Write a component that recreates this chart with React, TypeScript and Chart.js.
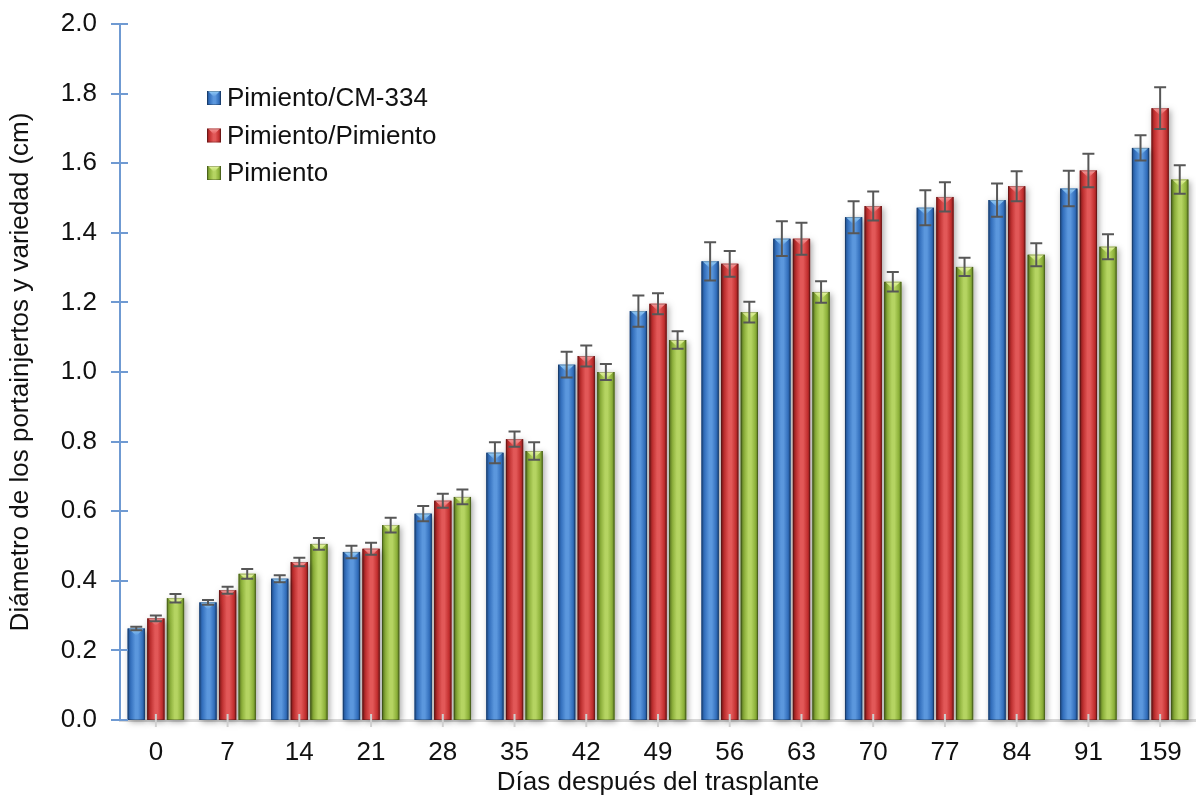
import React, { useEffect, useRef } from 'react';
import { Chart, registerables } from 'chart.js';

Chart.register(...registerables);

// ---- data ----
const days = ['0', '7', '14', '21', '28', '35', '42', '49', '56', '63', '70', '77', '84', '91', '159'];
const seriesNames = ['Pimiento/CM-334', 'Pimiento/Pimiento', 'Pimiento'];
const cm334 = [0.263, 0.338, 0.406, 0.483, 0.593, 0.768, 1.021, 1.175, 1.318, 1.383, 1.445, 1.472, 1.494, 1.527, 1.644];
const pimPim = [0.292, 0.373, 0.454, 0.492, 0.630, 0.807, 1.046, 1.196, 1.311, 1.383, 1.477, 1.503, 1.534, 1.579, 1.758];
const pim = [0.350, 0.420, 0.506, 0.560, 0.641, 0.773, 1.000, 1.092, 1.172, 1.230, 1.259, 1.302, 1.337, 1.360, 1.553];
const errCm334 = [0.005, 0.007, 0.010, 0.018, 0.022, 0.030, 0.037, 0.045, 0.055, 0.050, 0.046, 0.050, 0.048, 0.051, 0.036];
const errPimPim = [0.008, 0.010, 0.012, 0.017, 0.020, 0.022, 0.030, 0.030, 0.037, 0.046, 0.042, 0.042, 0.043, 0.048, 0.060];
const errPim = [0.012, 0.014, 0.017, 0.021, 0.021, 0.025, 0.023, 0.025, 0.030, 0.031, 0.028, 0.026, 0.033, 0.036, 0.041];
const yMin = 0;
const yMax = 2.0;
const yStep = 0.2;
const xTitle = 'Días después del trasplante';
const yTitle = 'Diámetro de los portainjertos y variedad (cm)';

const seriesValues = [cm334, pimPim, pim];
const seriesErrors = [errCm334, errPimPim, errPim];

const palette = [
  { dark: '#1d4a86', mid: '#3470bd', light: '#5b97dd', tip: '#93cdf8' },
  { dark: '#861b1b', mid: '#c33030', light: '#e25858', tip: '#f89a9a' },
  { dark: '#5a7820', mid: '#8db13a', light: '#b5d462', tip: '#e6f7a0' },
];

const FONT = '"Liberation Sans", Arial, Helvetica, sans-serif';
const FS = 26;

function paintBar(ctx: CanvasRenderingContext2D, left: number, top: number, w: number, h: number, p: any) {
  if (h <= 0) return;
  const g = ctx.createLinearGradient(left, 0, left + w, 0);
  g.addColorStop(0, p.dark);
  g.addColorStop(0.18, p.mid);
  g.addColorStop(0.45, p.light);
  g.addColorStop(0.6, p.light);
  g.addColorStop(0.85, p.mid);
  g.addColorStop(1, p.dark);
  ctx.fillStyle = g;
  ctx.fillRect(left, top, w, h);
  // top bevel triangle
  const th = Math.min(w * 0.42, h);
  const tg = ctx.createLinearGradient(0, top, 0, top + th);
  tg.addColorStop(0, p.tip);
  tg.addColorStop(1, p.light);
  ctx.fillStyle = tg;
  ctx.beginPath();
  ctx.moveTo(left + 1, top);
  ctx.lineTo(left + w - 1, top);
  ctx.lineTo(left + w / 2, top + th);
  ctx.closePath();
  ctx.fill();
  ctx.strokeStyle = 'rgba(0,0,0,0.25)';
  ctx.lineWidth = 1;
  ctx.strokeRect(left + 0.5, top + 0.5, w - 1, h - 1);
}

const barPlugin = {
  id: 'barStyle',
  beforeDatasetDraw(chart: any) {
    const ctx = chart.ctx;
    ctx.save();
    ctx.shadowColor = 'rgba(0,0,0,0.35)';
    ctx.shadowBlur = 6;
    ctx.shadowOffsetX = 2;
    ctx.shadowOffsetY = 2;
  },
  afterDatasetDraw(chart: any, args: any) {
    const ctx = chart.ctx;
    ctx.restore();
    const p = palette[args.index];
    args.meta.data.forEach((el: any) => {
      const { x, y, base, width } = el.getProps(['x', 'y', 'base', 'width'], true);
      paintBar(ctx, x - width / 2, y, width, base - y, p);
    });
  },
  afterDatasetsDraw(chart: any) {
    const ctx = chart.ctx;
    const ys = chart.scales.y;
    const xs = chart.scales.x;
    const area = chart.chartArea;
    ctx.save();
    // error bars
    ctx.strokeStyle = '#575757';
    ctx.lineWidth = 2;
    seriesValues.forEach((vals, di) => {
      const meta = chart.getDatasetMeta(di);
      meta.data.forEach((el: any, i: number) => {
        const v = vals[i];
        const e = seriesErrors[di][i];
        const yt = ys.getPixelForValue(v + e);
        const yb = ys.getPixelForValue(v - e);
        const x = el.x;
        ctx.beginPath();
        ctx.moveTo(x, yt);
        ctx.lineTo(x, yb);
        ctx.moveTo(x - 6, yt);
        ctx.lineTo(x + 6, yt);
        ctx.moveTo(x - 6, yb);
        ctx.lineTo(x + 6, yb);
        ctx.stroke();
      });
    });
    // x tick marks
    ctx.strokeStyle = '#cfcfcf';
    ctx.lineWidth = 2;
    days.forEach((_, i) => {
      const x = xs.getPixelForValue(i);
      ctx.beginPath();
      ctx.moveTo(x, area.bottom - 6);
      ctx.lineTo(x, area.bottom + 7);
      ctx.stroke();
    });
    ctx.restore();
  },
  afterDraw(chart: any) {
    const ctx = chart.ctx;
    const ys = chart.scales.y;
    const area = chart.chartArea;
    ctx.save();
    // y tick crosses
    ctx.strokeStyle = '#6f9ad2';
    ctx.lineWidth = 2;
    ys.ticks.forEach((t: any) => {
      const y = Math.round(ys.getPixelForValue(t.value));
      ctx.beginPath();
      ctx.moveTo(area.left - 9, y);
      ctx.lineTo(area.left + 8, y);
      ctx.stroke();
    });
    // legend
    const lx = area.left + 87;
    const ly0 = area.top + 74;
    const gap = 37.5;
    ctx.font = `${FS}px ${FONT}`;
    ctx.textBaseline = 'middle';
    ctx.textAlign = 'left';
    seriesNames.forEach((name, i) => {
      const cy = ly0 + i * gap;
      paintBar(ctx, lx, cy - 7, 14, 14, palette[i]);
      ctx.fillStyle = '#111';
      ctx.fillText(name, lx + 20, cy + 1);
    });
    ctx.restore();
  },
};

export default function App() {
  const ref = useRef<HTMLCanvasElement | null>(null);
  useEffect(() => {
    if (!ref.current) return;
    const chart = new Chart(ref.current, {
      type: 'bar',
      data: {
        labels: days,
        datasets: seriesNames.map((name, i) => ({
          label: name,
          data: seriesValues[i],
          backgroundColor: palette[i].mid,
          borderWidth: 0,
          categoryPercentage: 0.82,
          barPercentage: 0.88,
          clip: false as any,
        })),
      },
      options: {
        animation: false,
        responsive: false,
        devicePixelRatio: 1,
        layout: { padding: { top: 24, right: 0, bottom: 0, left: 0 } },
        plugins: { legend: { display: false }, tooltip: { enabled: false } },
        scales: {
          x: {
            grid: { display: false, drawTicks: false, tickLength: 0 },
            border: { display: true, color: '#d9d9d9', width: 3 },
            ticks: { color: '#111', font: { family: FONT, size: FS }, padding: 17, maxRotation: 0 },
            title: { display: true, text: xTitle, color: '#111', font: { family: FONT, size: FS }, padding: { top: 0, bottom: 6 } },
            afterFit: (s: any) => { s.height = 84; s.paddingLeft = 0; s.paddingRight = 0; },
          },
          y: {
            min: yMin,
            max: yMax,
            ticks: {
              stepSize: yStep,
              color: '#111',
              font: { family: FONT, size: FS },
              padding: 23,
              callback: (v: any) => Number(v).toFixed(1),
            },
            grid: { display: false, drawTicks: false, tickLength: 0 },
            border: { display: true, color: '#6f9ad2', width: 2 },
            title: { display: true, text: yTitle, color: '#111', font: { family: FONT, size: FS }, padding: { top: 5, bottom: 0 } },
            afterFit: (s: any) => { s.width = 120; s.paddingTop = 0; s.paddingBottom = 0; },
          },
        },
      },
      plugins: [barPlugin],
    });
    return () => chart.destroy();
  }, []);
  return (
    <div style={{ position: 'fixed', left: 0, top: 0, width: 1196, height: 804, background: '#fff' }}>
      <canvas ref={ref} width={1196} height={804} />
    </div>
  );
}
